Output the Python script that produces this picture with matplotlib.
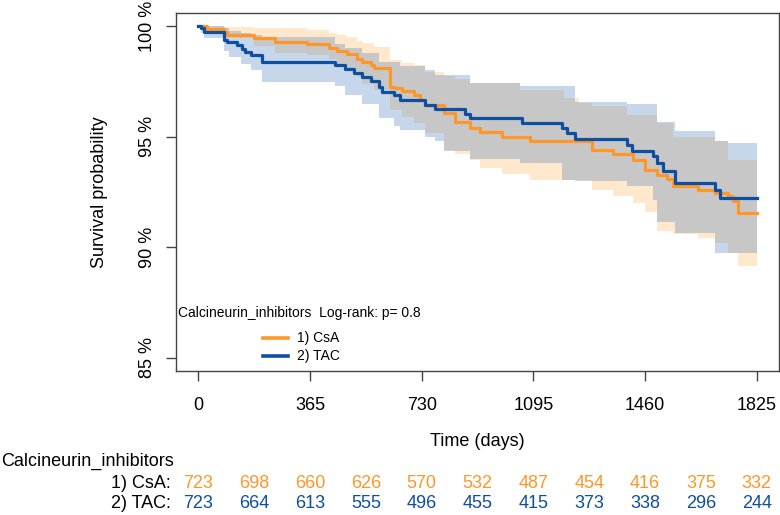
import matplotlib
matplotlib.use("Agg")
import matplotlib.pyplot as plt
from matplotlib import transforms
from matplotlib.lines import Line2D

plt.rcParams['font.family'] = ['Liberation Sans', 'DejaVu Sans']

# Kaplan-Meier step curves (time in days, survival in %)
csa_t = [0, 29, 84, 95, 182, 252, 356, 426, 454, 486, 519, 535, 563, 573, 628, 639,
         666, 704, 726, 742, 802, 840, 889, 922, 992, 1085, 1286, 1357, 1422, 1460,
         1499, 1531, 1553, 1634, 1689, 1732, 1749, 1765, 1825]
csa_s = [100, 99.86, 99.74, 99.6, 99.45, 99.3, 99.18, 99.02, 98.89, 98.74, 98.54, 98.39,
         98.24, 98.1, 97.27, 97.19, 97.07, 96.89, 96.67, 96.44, 96.08, 95.69, 95.39,
         95.21, 95.01, 94.82, 94.41, 94.22, 93.96, 93.5, 93.29, 93.1, 92.79, 92.61,
         92.46, 92.31, 92.09, 91.56, 91.56]

tac_t = [0, 8, 18, 84, 95, 127, 144, 154, 171, 209, 448, 481, 508, 535, 563, 590, 601,
         639, 660, 742, 775, 873, 889, 1058, 1188, 1205, 1232, 1401, 1417, 1487, 1499,
         1520, 1558, 1689, 1705, 1825]
tac_s = [100, 99.9, 99.74, 99.37, 99.3, 99.14, 98.99, 98.84, 98.69, 98.39, 98.24, 98.05,
         97.9, 97.72, 97.54, 97.27, 97.04, 96.89, 96.67, 96.44, 96.26, 96.04, 95.87,
         95.62, 95.39, 95.17, 94.9, 94.64, 94.34, 94.11, 93.81, 93.47, 92.91, 92.61,
         92.24, 92.24]

# confidence bands
csa_ci_t = [0, 29, 84, 182, 252, 356, 426, 454, 486, 519, 535, 573, 628, 666, 704, 742,
            802, 840, 889, 922, 992, 1053, 1085, 1195, 1244, 1286, 1357, 1401, 1422, 1460,
            1499, 1553, 1634, 1689, 1732, 1765, 1825]
csa_lo = [100, 99.7, 99.46, 99.1, 98.8, 98.7, 98.5, 98.3, 98.0, 97.7, 97.4, 97.1, 96.2,
          95.9, 95.6, 95.18, 94.41, 94.2, 93.96, 93.6, 93.3, 93.3, 93.06, 93.06, 93.06,
          92.6, 92.3, 92.3, 92.0, 91.6, 90.74, 90.6, 90.4, 90.2, 89.76, 89.16, 89.16]
csa_hi = [100, 100, 99.98, 99.94, 99.9, 99.82, 99.7, 99.6, 99.5, 99.35, 99.22, 99.07,
          98.47, 98.35, 98.24, 97.94, 97.75, 97.6, 97.42, 97.42, 97.42, 97.1, 97.1, 96.74,
          96.52, 96.37, 96.37, 95.99, 95.99, 95.99, 95.63, 95.01, 95.01, 94.79, 93.96,
          93.96, 93.96]

tac_ci_t = [0, 8, 18, 84, 100, 140, 171, 209, 448, 481, 535, 590, 640, 660, 742, 775, 802,
            889, 1053, 1188, 1232, 1401, 1487, 1499, 1558, 1689, 1730, 1825]
tac_lo = [100, 99.7, 99.46, 98.9, 98.6, 98.3, 98.0, 97.49, 97.3, 96.9, 96.5, 95.85, 95.5,
          95.3, 95.0, 94.79, 94.34, 94.0, 93.81, 93.06, 92.99, 92.76, 92.16, 91.13, 90.66,
          89.76, 89.76, 89.76]
tac_hi = [100, 100, 100, 99.9, 99.8, 99.7, 99.6, 99.5, 99.2, 99.0, 98.8, 98.4, 98.4,
          98.2, 98.0, 97.8, 97.8, 97.45, 97.3, 97.3, 96.59, 96.49, 96.49, 95.69, 95.24,
          94.79, 94.72, 94.72]

ticks_x = [0, 365, 730, 1095, 1460, 1825]
ticks_y = [85, 90, 95, 100]
risk_t = [0, 182.5, 365, 547.5, 730, 912.5, 1095, 1277.5, 1460, 1642.5, 1825]
risk_csa = [723, 698, 660, 626, 570, 532, 487, 454, 416, 375, 332]
risk_tac = [723, 664, 613, 555, 496, 455, 415, 373, 338, 296, 244]
groups = ['1) CsA', '2) TAC']

orange = '#FF9628'
blue = '#0F4F9F'

fig = plt.figure(figsize=(7.8, 5.15), dpi=100)
ax = fig.add_axes([176 / 780, 1 - 371 / 515, 603 / 780, 358 / 515])

ax.fill_between(csa_ci_t, csa_lo, csa_hi, step='post', color='#FF8F00', alpha=0.2, lw=0)
ax.fill_between(tac_ci_t, tac_lo, tac_hi, step='post', color='#487DC0', alpha=0.3, lw=0)
ax.step(csa_t, csa_s, where='post', color=orange, lw=2.3)
ax.step(tac_t, tac_s, where='post', color=blue, lw=2.3)

ax.set_xlim(-73, 1898)
ax.set_ylim(84.4, 100.6)
ax.set_xticks(ticks_x)
ax.set_xticklabels([str(v) for v in ticks_x])
ax.set_yticks(ticks_y)
ax.set_yticklabels([f'{v} %' for v in ticks_y], rotation=90, va='center')
ax.tick_params(length=7.5, width=1, color='#444444', labelsize=13)
ax.tick_params(axis='x', pad=11)
ax.tick_params(axis='y', pad=7)
for sp in ax.spines.values():
    sp.set_color('#444444')
    sp.set_linewidth(1)

fig.text(100 / 780, 1 - 192 / 515, 'Survival probability', rotation=90,
         ha='center', va='center', fontsize=13)
fig.text(477 / 780, 1 - 441 / 515, 'Time (days)', ha='center', va='center', fontsize=13)

# legend drawn by hand, as in the R plot
fig.text(178 / 780, 1 - 313 / 515, 'Calcineurin_inhibitors  Log-rank: p= 0.8',
         ha='left', va='center', fontsize=10)
for i, (name, c) in enumerate(zip(groups, [orange, blue])):
    y = 1 - (338 + 18 * i) / 515
    fig.add_artist(Line2D([263 / 780, 288 / 780], [y, y], color=c, lw=2.6,
                          transform=fig.transFigure))
    fig.text(297 / 780, y, name, ha='left', va='center', fontsize=10)

# number at risk table
tr = transforms.blended_transform_factory(ax.transData, fig.transFigure)
fig.text(1 / 780, 1 - 461 / 515, 'Calcineurin_inhibitors', ha='left', va='center', fontsize=13)
for i, name in enumerate(groups):
    fig.text(171 / 780, 1 - (483 + 21 * i) / 515, name + ':', ha='right', va='center',
             fontsize=13)
for t, a, b in zip(risk_t, risk_csa, risk_tac):
    ax.text(t, 1 - 483 / 515, str(a), transform=tr, ha='center', va='center',
            fontsize=13, color=orange, clip_on=False)
    ax.text(t, 1 - 504 / 515, str(b), transform=tr, ha='center', va='center',
            fontsize=13, color=blue, clip_on=False)

fig.savefig('out.png', dpi=100)
